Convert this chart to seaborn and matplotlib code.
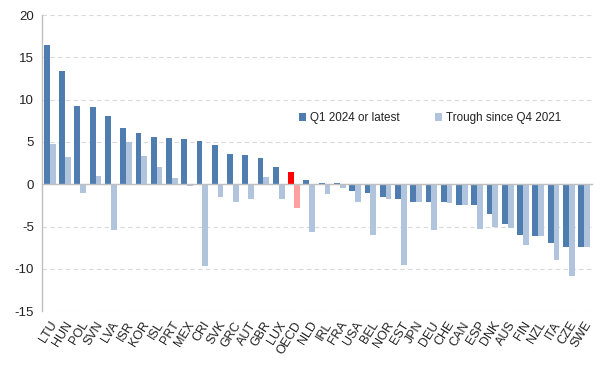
import matplotlib
matplotlib.use('Agg')
import matplotlib.pyplot as plt
import seaborn as sns
import pandas as pd
import numpy as np

# ─────────────────────────────────────────────────────────────────────────────
# DATA
# ─────────────────────────────────────────────────────────────────────────────
COUNTRIES = ['LTU', 'HUN', 'POL', 'SVN', 'LVA', 'ISR', 'KOR', 'ISL', 'PRT', 'MEX',
             'CRI', 'SVK', 'GRC', 'AUT', 'GBR', 'LUX', 'OECD', 'NLD', 'IRL', 'FRA',
             'USA', 'BEL', 'NOR', 'EST', 'JPN', 'DEU', 'CHE', 'CAN', 'ESP', 'DNK',
             'AUS', 'FIN', 'NZL', 'ITA', 'CZE', 'SWE']
Q1_LATEST = [16.4, 13.4, 9.3, 9.1, 8.1, 6.7, 6.1, 5.6, 5.45, 5.4,
             5.1, 4.6, 3.6, 3.5, 3.1, 2.0, 1.4, 0.5, 0.2, 0.1,
             -0.75, -1.05, -1.55, -1.75, -2.05, -2.05, -2.15, -2.4, -2.5, -3.5,
             -4.75, -5.95, -6.15, -6.95, -7.45, -7.45]
TROUGH = [4.8, 3.2, -1.05, 1.0, -5.4, 5.0, 3.3, 2.0, 0.7, -0.2,
          -9.7, -1.55, -2.1, -1.8, 0.9, -1.8, -2.8, -5.7, -1.15, -0.45,
          -2.15, -6.05, -1.8, -9.5, -2.05, -5.45, -2.2, -2.4, -5.3, -5.0,
          -5.15, -7.15, -6.15, -9.0, -10.9, -7.45]
SERIES = ['Q1 2024 or latest', 'Trough since Q4 2021']
HIGHLIGHT = 'OECD'

DARK = '#4F7DB0'
LIGHT = '#B0C4DE'
RED = '#FF0000'
PINK = '#FFA0A0'
GREY = '#BFBFBF'

df = pd.DataFrame({
    'country': COUNTRIES * 2,
    'series': [SERIES[0]] * len(COUNTRIES) + [SERIES[1]] * len(COUNTRIES),
    'value': Q1_LATEST + TROUGH,
})

# ─────────────────────────────────────────────────────────────────────────────
# PLOT
# ─────────────────────────────────────────────────────────────────────────────
sns.set_style('white')
plt.rcParams['font.family'] = ['Liberation Sans', 'DejaVu Sans']
plt.rcParams['axes.unicode_minus'] = False

fig = plt.figure(figsize=(6.1, 3.66), dpi=100)
ax = fig.add_axes([0.069, 0.150, 0.901, 0.809])

sns.barplot(data=df, x='country', y='value', hue='series', order=COUNTRIES,
            hue_order=SERIES, palette=[DARK, LIGHT], width=0.76,
            errorbar=None, saturation=1, linewidth=0, ax=ax)

# highlight OECD average
i = COUNTRIES.index(HIGHLIGHT)
ax.containers[0][i].set_facecolor(RED)
ax.containers[1][i].set_facecolor(PINK)

n = len(COUNTRIES)
ax.set_xlim(-0.5, n - 0.5)
ax.set_ylim(-15, 20)
ax.set_yticks(np.arange(-15, 21, 5))
ax.set_xlabel('')
ax.set_ylabel('')
ax.yaxis.grid(True, color='#D9D9D9', linestyle=(0, (4, 3)), linewidth=0.8)
ax.set_axisbelow(True)

for s in ['top', 'right']:
    ax.spines[s].set_visible(False)
ax.spines['left'].set_color(GREY)
ax.spines['left'].set_linewidth(1.0)
ax.spines['bottom'].set_position(('data', 0))
ax.spines['bottom'].set_color(GREY)
ax.spines['bottom'].set_linewidth(1.0)

# boundary ticks on zero line
ax.set_xticks(np.arange(-0.5, n, 1.0))
ax.set_xticklabels([])
ax.tick_params(axis='x', direction='out', length=4, width=1, color=GREY)
ax.tick_params(axis='y', direction='out', length=4, width=1, color=GREY,
               labelsize=9.5, pad=2, labelcolor='#222222')

# country labels at bottom of the plot
sec = ax.secondary_xaxis('bottom')
sec.set_xticks(range(n))
sec.set_xticklabels(COUNTRIES, rotation=58, ha='right', rotation_mode='anchor',
                    fontsize=9, color='#222222')
sec.tick_params(length=0, pad=6)
sec.spines['bottom'].set_visible(False)

leg = ax.legend(ncol=2, frameon=False, loc='center',
                bbox_to_anchor=(0.706, 0.652), fontsize=8.4,
                handlelength=0.6, handleheight=0.6, handletextpad=0.3,
                columnspacing=3.1)
for t in leg.get_texts():
    t.set_color('#222222')

fig.savefig('out.png', dpi=100)
